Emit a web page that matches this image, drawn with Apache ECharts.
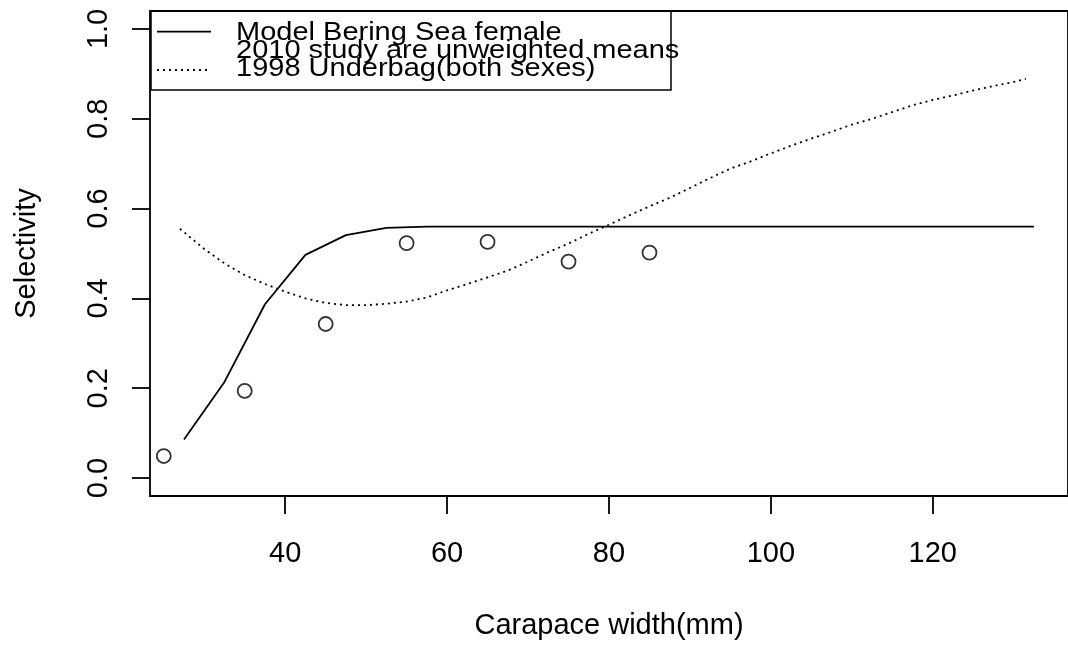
<!DOCTYPE html>
<html>
<head>
<meta charset="utf-8">
<script src="https://cdn.jsdelivr.net/npm/echarts@6/dist/echarts.min.js"></script>
<style>
html,body{margin:0;padding:0;background:#fff;}
#chart{width:1068px;height:648px;}
</style>
</head>
<body>
<div id="chart"></div>
<script>
// ---- data ----
const modelWidth = [27.5,32.5,37.5,42.5,47.5,52.5,57.5,62.5,67.5,72.5,77.5,82.5,87.5,92.5,97.5,102.5,107.5,112.5,117.5,122.5,127.5,132.5];
const modelSel   = [0.086,0.214,0.387,0.497,0.541,0.557,0.560,0.560,0.560,0.560,0.560,0.560,0.560,0.560,0.560,0.560,0.560,0.560,0.560,0.560,0.560,0.560];

const studyWidth = [25,35,45,55,65,75,85];
const studySel   = [0.049,0.194,0.343,0.523,0.526,0.482,0.502];

const underbagWidth = [27,30,32.5,35,37.5,40,42.5,45,47.5,50,52.5,55,57.5,60,62.5,65,67.5,70,72.5,75,77.5,80,82.5,85,87.5,90,92.5,95,97.5,100,102.5,105,107.5,110,112.5,115,117.5,120,122.5,125,127.5,130,131.5];
const underbagSel   = [0.555,0.510,0.478,0.452,0.432,0.415,0.400,0.390,0.385,0.385,0.388,0.393,0.402,0.418,0.432,0.447,0.462,0.482,0.503,0.522,0.544,0.564,0.585,0.605,0.624,0.646,0.668,0.689,0.705,0.723,0.740,0.756,0.771,0.787,0.800,0.815,0.830,0.842,0.852,0.863,0.873,0.882,0.889];

const xTicks = [40,60,80,100,120];
const yTicks = [0,0.2,0.4,0.6,0.8,1.0];

const legendLabels = ["Model Bering Sea female","2010 study are unweighted means","1998 Underbag(both sexes)"];
const xTitle = "Carapace width(mm)";
const yTitle = "Selectivity";

// ---- chart ----
const FONT = "'Liberation Sans', Arial, Helvetica, sans-serif";
const pairs = (xs, ys) => xs.map((x, i) => [x, ys[i]]);

const chart = echarts.init(document.getElementById('chart'), null, {renderer: 'canvas'});

const legendGraphic = [
  {type:'rect', shape:{x:151, y:11, width:520, height:79}, style:{fill:'none', stroke:'#000', lineWidth:1.5}, z:100},
  {type:'line', shape:{x1:157, y1:31.7, x2:211, y2:31.7}, style:{stroke:'#000', lineWidth:1.8}, z:100},
  {type:'line', shape:{x1:157, y1:70, x2:211, y2:70}, style:{stroke:'#000', lineWidth:1.8, lineDash:[2,4]}, z:100}
];
const legendY = [33.5, 51.5, 69.0];
legendLabels.forEach((t, i) => {
  legendGraphic.push({
    type:'text', x:236, y:legendY[i], scaleY:0.87, z:101,
    style:{text:t, x:0, y:0, fill:'#000', font:'29px ' + FONT, textAlign:'left', textVerticalAlign:'middle', verticalAlign:'middle'}
  });
});

const option = {
  animation: false,
  backgroundColor: '#fff',
  grid: {left:150, top:11, width:926.5, height:485, show:true, borderColor:'#000', borderWidth:1.8, backgroundColor:'transparent', containLabel:false},
  xAxis: {
    type:'value', min:23.3, max:136.7,
    name: xTitle, nameLocation:'middle', nameGap:115.5,
    nameTextStyle:{fontFamily:FONT, fontSize:29, color:'#000'},
    axisLine:{show:false, onZero:false},
    splitLine:{show:false},
    axisTick:{show:true, inside:false, length:18, customValues:xTicks, lineStyle:{color:'#000', width:1.8}},
    axisLabel:{show:true, customValues:xTicks, margin:43, fontFamily:FONT, fontSize:29, color:'#000'}
  },
  yAxis: {
    type:'value', min:-0.04, max:1.04,
    name: yTitle, nameLocation:'middle', nameGap:109,
    nameTextStyle:{fontFamily:FONT, fontSize:29, color:'#000'},
    axisLine:{show:false, onZero:false},
    splitLine:{show:false},
    axisTick:{show:true, inside:false, length:18, customValues:yTicks, lineStyle:{color:'#000', width:1.8}},
    axisLabel:{show:true, customValues:yTicks, rotate:90, margin:37, fontFamily:FONT, fontSize:29, color:'#000',
      formatter: v => Number(v).toFixed(1)}
  },
  series: [
    {type:'line', name:legendLabels[0], data:pairs(modelWidth, modelSel), symbol:'none', lineStyle:{color:'#000', width:1.8, type:'solid'}, z:3},
    {type:'scatter', name:legendLabels[1], data:pairs(studyWidth, studySel), symbol:'circle', symbolSize:14,
      itemStyle:{color:'rgba(0,0,0,0)', borderColor:'#000', borderWidth:1.8}, z:4},
    {type:'line', name:legendLabels[2], data:pairs(underbagWidth, underbagSel), symbol:'none', lineStyle:{color:'#000', width:1.8, type:[2,4]}, z:3}
  ],
  graphic: legendGraphic
};
chart.setOption(option);
</script>
</body>
</html>
